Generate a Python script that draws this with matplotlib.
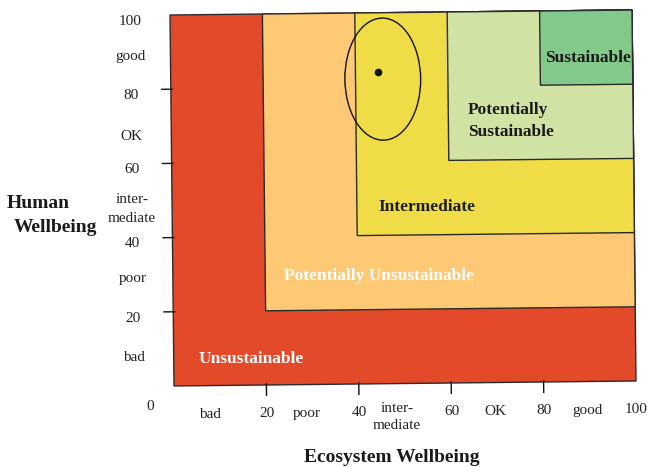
import matplotlib
matplotlib.use("Agg")
import matplotlib.pyplot as plt
from matplotlib.patches import Rectangle, Ellipse
from matplotlib.transforms import Affine2D

# ---- data ----
zone_names = ["Unsustainable", "Potentially Unsustainable", "Intermediate",
              "Potentially\nSustainable", "Sustainable"]
zone_lower = [0, 20, 40, 60, 80]          # each zone spans [lower, 100] on both axes
zone_upper = 100
zone_colors = ["#E34A29", "#FDC974", "#F0DC46", "#D0E3A4", "#83C98A"]
zone_text_colors = ["#FFFFFF", "#FFFFFF", "#1A1A1A", "#1A1A1A", "#1A1A1A"]
zone_label_x = [5.3, 24.1, 44.6, 64.2, 81.1]
zone_label_y = [7.2, 29.3, 47.7, 70.6, 87.3]

tick_values = [20, 40, 60, 80]
number_labels = ["20", "40", "60", "80", "100"]
number_positions = [20, 40, 60, 80, 100]
category_labels = ["bad", "poor", "inter-\nmediate", "OK", "good"]
x_category_positions = [7.8, 28.7, 48.2, 69.4, 89.5]
y_category_positions = [7.7, 29.0, 47.8, 67.5, 88.8]

ellipse_center = (45.9, 82.1)
ellipse_size = (16.4, 32.9)
point = (44.8, 83.9)

# ---- figure ----
W, H, DPI = 650, 467, 100
fig = plt.figure(figsize=(W / DPI, H / DPI), dpi=DPI)
plt.rcParams['font.family'] = ['Liberation Serif', 'DejaVu Serif']

left_px, right_px, top_px, bottom_px = 172, 634, 12.5, 383.5
ax = fig.add_axes([left_px / W, 1 - bottom_px / H,
                   (right_px - left_px) / W, (bottom_px - top_px) / H])
ax.set_xlim(0, 100)
ax.set_ylim(0, 100)
ax.axis("off")

# slight rotation of the whole diagram (as in the reference drawing)
cx, cy = (left_px + right_px) / 2, H - (top_px + bottom_px) / 2
tr = ax.transData + Affine2D().rotate_deg_around(cx, cy, 0.62)

edge = "#2b2b2b"
for lo, col in zip(zone_lower, zone_colors):
    ax.add_patch(Rectangle((lo, lo), zone_upper - lo, zone_upper - lo,
                           facecolor=col, edgecolor=edge, lw=1.0,
                           transform=tr, clip_on=False))

for name, x, y, c in zip(zone_names, zone_label_x, zone_label_y, zone_text_colors):
    ax.text(x, y, name, transform=tr, ha="left", va="center", color=c,
            fontsize=12.5, fontweight="bold", linespacing=1.45)

ax.add_patch(Ellipse(ellipse_center, ellipse_size[0], ellipse_size[1],
                     facecolor="none", edgecolor="#111111", lw=1.0,
                     transform=tr, clip_on=False))
ax.plot([point[0]], [point[1]], "o", color="#111111", ms=4.5,
        transform=tr, clip_on=False)

# ticks
for t in tick_values:
    ax.plot([t, t], [-2.8, 0.3], color="#111111", lw=1.0, transform=tr, clip_on=False)
    ax.plot([-2.0, 0.3], [t, t], color="#111111", lw=1.0, transform=tr, clip_on=False)

# tick labels
tick_fs = 11
for lab, p in zip(number_labels, number_positions):
    ax.text(p, -7.6, lab, transform=tr, ha="center", va="center",
            fontsize=tick_fs, color="#222222")
    ax.text(-8.66, p - 1.6, lab, transform=tr, ha="center", va="center",
            fontsize=tick_fs, color="#222222")
for lab, px_, py_ in zip(category_labels, x_category_positions, y_category_positions):
    ax.text(px_, -7.7 if "\n" not in lab else -9.0, lab, transform=tr,
            ha="center", va="center", fontsize=tick_fs, color="#222222",
            linespacing=1.45)
    ax.text(-8.66, py_, lab, transform=tr, ha="center", va="center",
            fontsize=tick_fs, color="#222222", linespacing=1.6)
ax.text(-5.2, -5.4, "0", transform=tr, ha="center", va="center",
        fontsize=tick_fs, color="#222222")

# axis titles
fig.text(38 / W, 1 - 204 / H, "Human", ha="center", va="center",
         fontsize=14, fontweight="bold", color="#1A1A1A")
fig.text(55 / W, 1 - 228 / H, "Wellbeing", ha="center", va="center",
         fontsize=14, fontweight="bold", color="#1A1A1A")
fig.text(392 / W, 1 - 457 / H, "Ecosystem Wellbeing", ha="center", va="center",
         fontsize=14, fontweight="bold", color="#1A1A1A")

fig.savefig("out.png", dpi=DPI)
